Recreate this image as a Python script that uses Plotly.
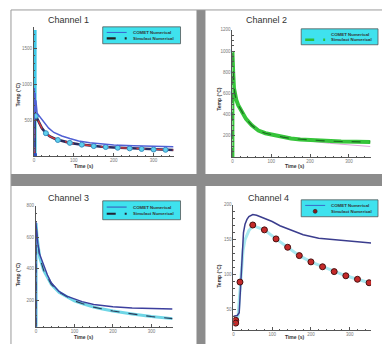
import plotly.graph_objects as go

W, H = 382, 344

# ---------------- data ----------------
# Channel 1
ch1_comet_t = [0, 1, 2, 3, 4, 5, 8, 12, 17, 25, 37, 50, 70, 90, 112, 140, 170, 200, 250, 300, 350]
ch1_comet_T = [60, 950, 700, 880, 620, 780, 600, 570, 540, 470, 390, 330, 280, 245, 210, 185, 165, 155, 143, 135, 130]
ch1_sim_t = [1.5, 1.5, 5, 10, 15, 20, 30, 40, 55, 70, 90, 112, 140, 170, 200, 250, 300, 350]
ch1_sim_T = [0, 620, 560, 500, 440, 390, 320, 275, 235, 210, 185, 165, 145, 130, 120, 105, 92, 85]
ch1_spike_t = [0.5, 0.5]
ch1_spike_T = [0, 1760]
ch1_mark_t = [5, 30, 60, 90, 120, 150, 180, 210, 240, 270, 300, 330]
ch1_mark_T = [560, 320, 225, 185, 160, 140, 127, 117, 108, 100, 92, 88]
ch1_origin_t = [0]
ch1_origin_T = [0]

# Channel 2
ch2_sim_t = [0, 0, 2, 4, 6, 10, 15, 23, 35, 50, 67, 85, 108, 130, 151, 175, 203, 240, 280, 320, 355]
ch2_sim_T = [0, 1000, 800, 650, 600, 540, 490, 440, 360, 300, 250, 225, 205, 188, 175, 167, 160, 152, 147, 145, 143]
ch2_comet_t = [120, 160, 200, 250, 300, 355]
ch2_comet_T = [195, 170, 150, 130, 113, 100]

# Channel 3
ch3_comet_t = [0, 0, 2, 5, 10, 20, 30, 40, 60, 80, 100, 120, 150, 170, 200, 250, 300, 355]
ch3_comet_T = [30, 700, 640, 560, 490, 420, 360, 310, 255, 225, 205, 190, 172, 165, 158, 150, 146, 143]
ch3_sim_t = [0.5, 0.5, 3, 6, 10, 20, 30, 40, 60, 80, 100, 120, 150, 170, 200, 250, 300, 355]
ch3_sim_T = [30, 690, 600, 540, 470, 390, 340, 300, 250, 220, 195, 178, 155, 145, 130, 112, 95, 82]

# Channel 4
ch4_comet_t = [0, 10, 15, 18, 22, 26, 30, 35, 40, 50, 60, 80, 100, 120, 150, 180, 220, 270, 320, 355]
ch4_comet_T = [40, 41, 45, 80, 130, 160, 172, 179, 183, 186, 185, 181, 176, 170, 163, 157, 152, 149, 147, 145]
ch4_aux_t = [0, 8, 12, 16, 20, 25, 30, 40, 50, 80, 110, 140, 170, 200, 230, 260, 290, 320, 350]
ch4_aux_T = [30, 31, 40, 70, 105, 135, 150, 163, 170, 164, 151, 139, 127, 118, 111, 104, 98, 93, 88]
ch4_sim_t = [6, 6, 17, 50, 80, 110, 140, 170, 200, 230, 260, 290, 320, 350]
ch4_sim_T = [34, 30, 89, 171, 164, 151, 139, 127, 118, 111, 104, 98, 93, 88]

x_ticks = [0, 100, 200, 300]
y_ticks = {1: [500, 1000, 1500], 2: [200, 400, 600, 800, 1000, 1200],
           3: [200, 400, 600, 800], 4: [50, 100, 150, 200]}
titles = ["Channel 1", "Channel 2", "Channel 3", "Channel 4"]
leg_names = ["COMET Numerical", "Simulact Numerical"]


def X(p):
    return p / W


def Y(p):
    return 1 - p / H


fig = go.Figure()


def ax(n):
    return ("x" if n == 1 else f"x{n}"), ("y" if n == 1 else f"y{n}")


def line(n, t, T, color, width, dash="solid"):
    xa, ya = ax(n)
    fig.add_trace(go.Scatter(x=t, y=T, mode="lines", xaxis=xa, yaxis=ya, showlegend=False,
                             line=dict(color=color, width=width, dash=dash), hoverinfo="skip"))


def marks(n, t, T, color, size, lc, symbol="circle"):
    xa, ya = ax(n)
    fig.add_trace(go.Scatter(x=t, y=T, mode="markers", xaxis=xa, yaxis=ya, showlegend=False,
                             marker=dict(color=color, size=size, symbol=symbol,
                                         line=dict(color=lc, width=1)), hoverinfo="skip"))


# Channel 1
line(1, ch1_spike_t, ch1_spike_T, "#3fc9e8", 5)
line(1, ch1_sim_t, ch1_sim_T, "#2a2a5e", 2.6)
line(1, ch1_sim_t, ch1_sim_T, "#d23a3a", 1.4, "dash")
marks(1, ch1_mark_t, ch1_mark_T, "#5fd0ec", 5, "#3a8fc0")
line(1, ch1_comet_t, ch1_comet_T, "#5060d4", 1.5)
marks(1, ch1_origin_t, ch1_origin_T, "#3050c0", 5, "#3050c0", "square")

# Channel 2
line(2, ch2_comet_t, ch2_comet_T, "#e0a8dc", 1)
line(2, ch2_sim_t, ch2_sim_T, "#36c43a", 4)
line(2, ch2_sim_t, ch2_sim_T, "#1d6b22", 1.2, "dash")

# Channel 3
line(3, ch3_sim_t, ch3_sim_T, "#6fd6e6", 3)
line(3, ch3_sim_t, ch3_sim_T, "#2a3a5a", 1.1, "dash")
line(3, ch3_comet_t, ch3_comet_T, "#3c3f9e", 1.4)

# Channel 4
line(4, ch4_aux_t, ch4_aux_T, "#a8e8f0", 3)
line(4, ch4_comet_t, ch4_comet_T, "#3b3d8e", 1.5)
marks(4, ch4_sim_t, ch4_sim_T, "#c42a2a", 6, "#4a1010")

# axes layout (pixel boxes -> paper domains)
boxes = {
    1: dict(x=(33, 173), y=(155, 25.4), xr=[0, 350], yr=[0, 1800], ym=100),
    2: dict(x=(232, 371), y=(156, 28), xr=[0, 357], yr=[0, 1200], ym=50),
    3: dict(x=(35, 172), y=(327, 205), xr=[0, 355], yr=[28, 800], ym=50),
    4: dict(x=(233, 371), y=(330, 204), xr=[0, 355], yr=[20, 200], ym=10),
}
lay = {}
for n, b in boxes.items():
    xa, ya = ax(n)
    xk = "xaxis" if n == 1 else f"xaxis{n}"
    yk = "yaxis" if n == 1 else f"yaxis{n}"
    common = dict(showgrid=False, zeroline=False, showline=True, linecolor="#555", linewidth=1,
                  ticks="inside", ticklen=3, tickcolor="#555", tickmode="array",
                  tickfont=dict(size=4.5, color="#777", family="Liberation Sans"))
    lay[xk] = dict(common, domain=[X(b["x"][0]), X(b["x"][1])], range=b["xr"], anchor=ya,
                   tickvals=x_ticks, minor=dict(ticks="inside", ticklen=1.5, tickcolor="#555",
                                                tickmode="linear", tick0=0, dtick=20))
    lay[yk] = dict(common, domain=[Y(b["y"][0]), Y(b["y"][1])], range=b["yr"], anchor=xa,
                   tickvals=y_ticks[n], minor=dict(ticks="inside", ticklen=1.5, tickcolor="#555",
                                                   tickmode="linear", tick0=0, dtick=b["ym"]))

shapes = []
# page frame / gutters
shapes.append(dict(type="rect", xref="paper", yref="paper", x0=X(196), x1=X(205), y0=Y(344), y1=Y(8),
                   fillcolor="#8c8c8c", line=dict(width=0), layer="below"))
shapes.append(dict(type="rect", xref="paper", yref="paper", x0=X(10), x1=X(382), y0=Y(185), y1=Y(173),
                   fillcolor="#8c8c8c", line=dict(width=0), layer="below"))
shapes.append(dict(type="line", xref="paper", yref="paper", x0=X(10), x1=X(382), y0=Y(8), y1=Y(8),
                   line=dict(color="#9a9a9a", width=1), layer="below"))
shapes.append(dict(type="line", xref="paper", yref="paper", x0=X(10), x1=X(10), y0=Y(8), y1=Y(344),
                   line=dict(color="#9a9a9a", width=1), layer="below"))

annotations = []
title_pos = [(68, 18), (266, 18), (68, 197), (268, 197)]
for (tx, ty), txt in zip(title_pos, titles):
    annotations.append(dict(xref="paper", yref="paper", x=X(tx), y=Y(ty), text=txt, showarrow=False,
                            font=dict(size=9, color="#333", family="Liberation Sans"),
                            xanchor="center", yanchor="middle"))
xt_pos = [(83, 165), (294, 165), (83, 337), (294, 337)]
yt_pos = [(18, 93), (219, 97), (17, 274), (219, 275)]
for (tx, ty) in xt_pos:
    annotations.append(dict(xref="paper", yref="paper", x=X(tx), y=Y(ty), text="<b>Time (s)</b>",
                            showarrow=False, font=dict(size=5, color="#333", family="Liberation Sans"),
                            xanchor="center", yanchor="middle"))
for (tx, ty) in yt_pos:
    annotations.append(dict(xref="paper", yref="paper", x=X(tx), y=Y(ty), text="<b>Temp (°C)</b>",
                            showarrow=False, textangle=-90,
                            font=dict(size=5, color="#333", family="Liberation Sans"),
                            xanchor="center", yanchor="middle"))

# legend boxes
leg_boxes = [(102, 25, 180, 42), (301, 27, 378, 43), (102, 200, 180, 219), (301, 199, 378, 216)]
leg_row1 = [dict(color="#3a62d0", width=1, dash="solid"), None,
            dict(color="#3a50b8", width=1, dash="solid"), dict(color="#3a6ac8", width=1, dash="solid")]
leg_row2 = [dict(color="#222", width=2.2, dash="dash"), dict(color="#2fbf35", width=2.5, dash="dash"),
            dict(color="#223", width=2, dash="dash"), "dot"]
for i, (x0, y0, x1, y1) in enumerate(leg_boxes):
    shapes.append(dict(type="rect", xref="paper", yref="paper", x0=X(x0), x1=X(x1), y0=Y(y1), y1=Y(y0),
                       fillcolor="#3fe2ee", line=dict(color="#555", width=0.8)))
    r1 = y0 + (y1 - y0) * 0.33
    r2 = y0 + (y1 - y0) * 0.68
    if leg_row1[i] is not None:
        shapes.append(dict(type="line", xref="paper", yref="paper", x0=X(x0 + 4), x1=X(x0 + 24),
                           y0=Y(r1), y1=Y(r1), line=leg_row1[i]))
    if leg_row2[i] == "dot":
        shapes.append(dict(type="circle", xref="paper", yref="paper", x0=X(x0 + 12), x1=X(x0 + 16),
                           y0=Y(r2 + 2), y1=Y(r2 - 2), fillcolor="#8a1a1a", line=dict(color="#222", width=0.6)))
    else:
        shapes.append(dict(type="line", xref="paper", yref="paper", x0=X(x0 + 4), x1=X(x0 + 24),
                           y0=Y(r2), y1=Y(r2), line=leg_row2[i]))
    for r, name in zip((r1, r2), leg_names):
        annotations.append(dict(xref="paper", yref="paper", x=X(x0 + 28), y=Y(r), text=f"<b>{name}</b>",
                                showarrow=False, xanchor="left", yanchor="middle",
                                font=dict(size=4.4, color="#333", family="Liberation Sans")))

fig.update_layout(width=W, height=H, autosize=False, margin=dict(l=0, r=0, t=0, b=0),
                  paper_bgcolor="white", plot_bgcolor="rgba(0,0,0,0)", showlegend=False,
                  hovermode=False, shapes=shapes, annotations=annotations, **lay)

fig.write_html("out.html", config={"displayModeBar": False, "staticPlot": True},
               post_script="document.body.style.margin='0';document.body.style.padding='0';"
                           "document.body.style.overflow='hidden';")
